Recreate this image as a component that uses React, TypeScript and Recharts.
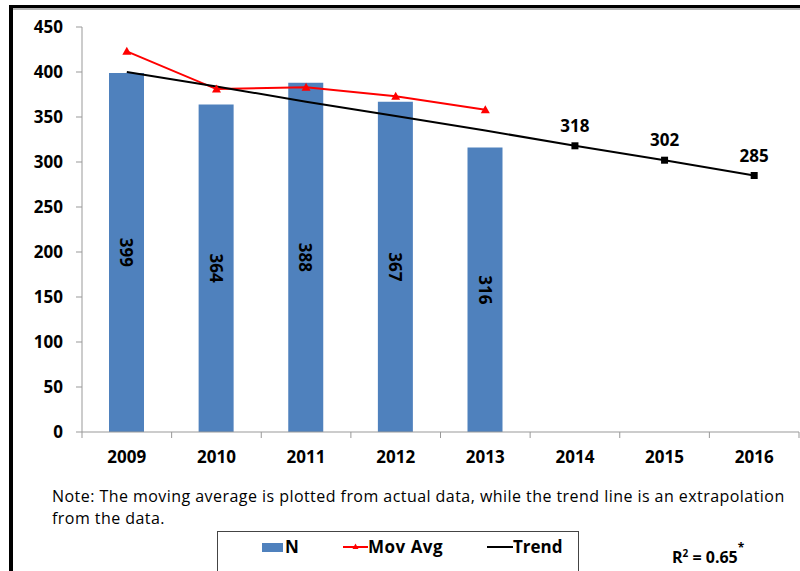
import React from 'react';
import { ComposedChart, Bar, Line, XAxis, YAxis, LabelList } from 'recharts';

const years = ['2009', '2010', '2011', '2012', '2013', '2014', '2015', '2016'];
const nValues = [399, 364, 388, 367, 316, null, null, null];
const movAvgValues = [423, 381, 383, 373, 358, null, null, null];
const trendValues = [400, 384, 367, 351, 335, 318, 302, 285];
const forecastYears = ['2014', '2015', '2016'];
const yTicks = [0, 50, 100, 150, 200, 250, 300, 350, 400, 450];
const noteLines = [
  'Note: The moving average is plotted from actual data, while the trend line is an extrapolation',
  'from the data.',
];
const legendLabels = ['N', 'Mov Avg', 'Trend'];

const data = years.map((year, i) => ({
  year,
  n: nValues[i],
  mov: movAvgValues[i],
  trend: trendValues[i],
}));

const FONT = '"Open Sans", "Liberation Sans", sans-serif';
const BLUE = '#4F81BD';
const RED = '#FF0000';

const XTick = (props: any) => {
  const { x, y, payload, index } = props;
  const half = payload && payload.offset ? payload.offset : 44.8;
  return (
    <g>
      <line x1={x - half} x2={x - half} y1={y} y2={y + 6} stroke="#999" strokeWidth={1} />
      {index === years.length - 1 && (
        <line x1={x + half} x2={x + half} y1={y} y2={y + 6} stroke="#999" strokeWidth={1} />
      )}
      <text x={x} y={y + 31} textAnchor="middle" fontFamily={FONT} fontWeight={700} fontSize={17} fill="#000">
        {payload.value}
      </text>
    </g>
  );
};

const BarLabel = (props: any) => {
  const { x, y, width, height, value } = props;
  if (value == null) return null;
  return (
    <text
      transform={`translate(${x + width / 2},${y + height / 2}) rotate(90)`}
      textAnchor="middle"
      dominantBaseline="central"
      fontFamily={FONT}
      fontWeight={700}
      fontSize={17}
      fill="#000"
    >
      {value}
    </text>
  );
};

const TriangleDot = (props: any) => {
  const { cx, cy, payload } = props;
  if (cx == null || cy == null || payload.mov == null) return <g key={props.key} />;
  return (
    <polygon
      key={props.key}
      points={`${cx},${cy - 4.5} ${cx - 4.5},${cy + 3.5} ${cx + 4.5},${cy + 3.5}`}
      fill={RED}
    />
  );
};

const SquareDot = (props: any) => {
  const { cx, cy, payload } = props;
  if (!forecastYears.includes(payload.year)) return <g key={props.key} />;
  return <rect key={props.key} x={cx - 3.5} y={cy - 3.5} width={7} height={7} fill="#000" />;
};

const TrendLabel = (props: any) => {
  const { x, y, value, index } = props;
  if (!forecastYears.includes(years[index])) return null;
  return (
    <text x={x} y={y - 14} textAnchor="middle" fontFamily={FONT} fontWeight={700} fontSize={17} fill="#000">
      {value}
    </text>
  );
};

export default function App() {
  return (
    <div
      style={{
        position: 'absolute',
        left: 0,
        top: 0,
        width: 800,
        height: 571,
        background: '#fff',
        overflow: 'hidden',
        fontFamily: FONT,
      }}
    >
      {/* frame */}
      <div style={{ position: 'absolute', left: 9, top: 5, width: 4, height: 566, background: '#000' }} />
      <div style={{ position: 'absolute', left: 9, top: 5, width: 791, height: 3, background: '#000' }} />
      <div style={{ position: 'absolute', left: 13, top: 8, width: 787, height: 2, background: '#b5b5b5' }} />

      <div style={{ position: 'absolute', left: 0, top: 0 }}>
        <ComposedChart width={800} height={571} data={data} margin={{ top: 27, right: 1, left: 0, bottom: 109 }}>
          <XAxis
            dataKey="year"
            height={30}
            axisLine={{ stroke: '#999', strokeWidth: 1 }}
            tickLine={false}
            tickSize={0}
            tickMargin={0}
            tick={<XTick />}
            interval={0}
          />
          <YAxis
            width={82}
            domain={[0, 450]}
            ticks={yTicks}
            interval={0}
            axisLine={{ stroke: '#999', strokeWidth: 1 }}
            tickLine={{ stroke: '#999', strokeWidth: 1 }}
            tickSize={6}
            tickMargin={13}
            tick={{ fill: '#000', fontSize: 17, fontWeight: 700, fontFamily: FONT }}
          />
          <Bar dataKey="n" fill={BLUE} barSize={35} isAnimationActive={false}>
            <LabelList dataKey="n" content={<BarLabel />} />
          </Bar>
          <Line
            dataKey="mov"
            stroke={RED}
            strokeWidth={2}
            dot={TriangleDot}
            activeDot={false}
            isAnimationActive={false}
          />
          <Line
            dataKey="trend"
            stroke="#000"
            strokeWidth={2}
            dot={SquareDot}
            activeDot={false}
            isAnimationActive={false}
          >
            <LabelList dataKey="trend" content={<TrendLabel />} />
          </Line>
        </ComposedChart>
      </div>

      {/* note */}
      <div
        style={{
          position: 'absolute',
          left: 52,
          top: 485,
          fontSize: 16,
          letterSpacing: '0.45px',
          lineHeight: '22px',
          color: '#000',
          whiteSpace: 'nowrap',
        }}
      >
        {noteLines.map((l, i) => (
          <div key={i}>{l}</div>
        ))}
      </div>

      {/* legend */}
      <div
        style={{
          position: 'absolute',
          left: 217,
          top: 531,
          width: 360,
          height: 60,
          borderTop: '1.5px solid #444',
          borderLeft: '1.5px solid #444',
          borderRight: '1.5px solid #444',
        }}
      />
      <div style={{ position: 'absolute', left: 262, top: 543, width: 21, height: 9, background: BLUE }} />
      <div style={{ position: 'absolute', left: 285, top: 536, fontSize: 17, fontWeight: 700, lineHeight: '22px' }}>
        {legendLabels[0]}
      </div>
      <svg style={{ position: 'absolute', left: 343, top: 541 }} width={25} height={12}>
        <line x1={0} x2={25} y1={6} y2={6} stroke={RED} strokeWidth={2} />
        <polygon points="12.5,2.5 9.5,8 15.5,8" fill={RED} />
      </svg>
      <div
        style={{
          position: 'absolute',
          left: 368,
          top: 536,
          fontSize: 17,
          fontWeight: 700,
          lineHeight: '22px',
          letterSpacing: '0.5px',
        }}
      >
        {legendLabels[1]}
      </div>
      <svg style={{ position: 'absolute', left: 487, top: 541 }} width={26} height={12}>
        <line x1={0} x2={26} y1={6} y2={6} stroke="#000" strokeWidth={2} />
      </svg>
      <div style={{ position: 'absolute', left: 513, top: 536, fontSize: 17, fontWeight: 700, lineHeight: '22px' }}>
        {legendLabels[2]}
      </div>

      {/* R squared */}
      <svg style={{ position: 'absolute', left: 660, top: 535 }} width={110} height={34}>
        <text x={12} y={28} fontFamily={FONT} fontWeight={700} fontSize={16} fill="#000">
          R
          <tspan dy={-6} fontSize={10}>
            2
          </tspan>
          <tspan dy={6}> = 0.65</tspan>
          <tspan dy={-11} fontSize={12}>
            *
          </tspan>
        </text>
      </svg>
    </div>
  );
}
